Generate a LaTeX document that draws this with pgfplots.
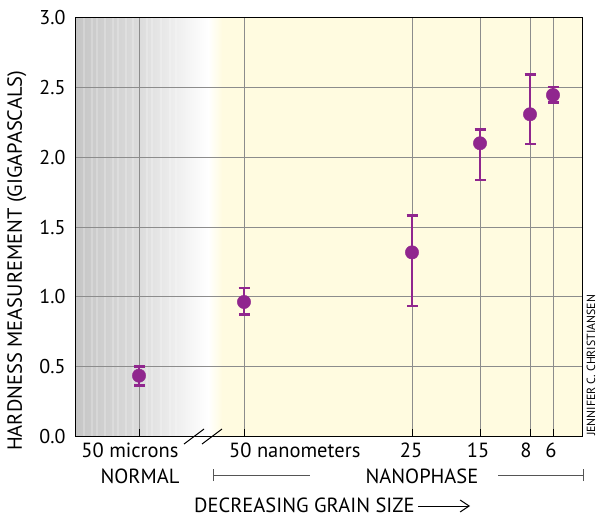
\documentclass[border=0pt]{standalone}
\usepackage{pgfplots}
\pgfplotsset{compat=1.18}
\usetikzlibrary{arrows.meta,calc}
\usepackage{fontspec}
\setmainfont{PT Sans}
\definecolor{purp}{HTML}{90268E}
\definecolor{ylw}{HTML}{FFFBE0}
\definecolor{gridc}{HTML}{8C8C8C}
\definecolor{gA}{HTML}{C6C6C6}
\definecolor{gB}{HTML}{DCDCDC}
\definecolor{brk}{HTML}{555555}
\pgfdeclarelayer{bg}
\pgfsetlayers{bg,main}
\begin{document}
\begin{tikzpicture}
\begin{axis}[name=ax, scale only axis,
  width=506pt, height=418pt,
  xmin=76, xmax=582, ymin=0, ymax=3,
  xtick={139,244,412,480,530,553}, xticklabels={},
  ytick={0,0.5,1,1.5,2,2.5,3},
  grid=major, grid style={gridc, line width=1pt},
  axis line style={black, line width=1pt},
  xtick pos=bottom, major tick length=7pt,
  tick style={black, line width=1pt},
  ytick style={draw=none},
  yticklabel style={font=\fontsize{20}{24}\selectfont, xshift=-7pt,
    /pgf/number format/fixed, /pgf/number format/fixed zerofill,
    /pgf/number format/precision=1, /pgf/number format/assume math mode=true},
  clip=false]
\addplot[only marks, mark=*, mark size=6.7pt, color=purp,
  mark options={fill=purp, draw=purp},
  error bars/.cd, y dir=both, y explicit,
  error bar style={line width=2.5pt, purp},
  error mark options={rotate=90, line width=2.5pt, mark size=5.5pt, purp}]
  coordinates {
  (139,0.433) += (0,0.067) -= (0,0.069)
  (244,0.962) += (0,0.100) -= (0,0.091)
  (412,1.318) += (0,0.263) -= (0,0.385)
  (480,2.101) += (0,0.097) -= (0,0.264)
  (530,2.309) += (0,0.287) -= (0,0.214)
  (553,2.447) += (0,0.057) -= (0,0.055)
  };
\coordinate (sw) at (axis cs:76,0);
\end{axis}
\begin{scope}[shift={($(sw)-(76pt,81pt)$)}, x=1pt, y=1pt]
\begin{pgfonlayer}{bg}
\shade[left color=gA,right color=gB] (76,81) rectangle (140.5,499);
\shade[left color=gB,right color=white] (140,81) rectangle (208.5,499);
\shade[left color=white,right color=ylw] (208,81) rectangle (222.5,499);
\fill[ylw] (222,81) rectangle (582,499);
\foreach \xx in {84,92,97,105,113,118,126,133,147,152,161,170,176} {
  \draw[white, opacity=0.22, line width=1.2pt] (\xx,81) -- (\xx,499);
}
\end{pgfonlayer}
% break marks
\draw[black, line width=1pt] (184,73) -- (204,88);
\draw[black, line width=1pt] (202,73) -- (222,88);
% x labels
\begin{scope}[every node/.style={font=\fontsize{20.5}{24}\selectfont, inner sep=0}]
\node[anchor=base] at (130,60) {50 microns};
\node[anchor=base west] at (229,60) {50 nanometers};
\node[anchor=base] at (411,60) {25};
\node[anchor=base] at (478,60) {15};
\node[anchor=base] at (526,60) {8};
\node[anchor=base] at (551,60) {6};
\node[anchor=base] at (140,34) {NORMAL};
\node[anchor=base] at (422,34) {NANOPHASE};
\node[anchor=base west] at (194,5) {DECREASING GRAIN SIZE};
\node[rotate=90, anchor=base west] at (22,66) {HARDNESS MEASUREMENT (GIGAPASCALS)};
\end{scope}
\draw[brk, line width=1pt] (213,36) -- (213,48);
\draw[brk, line width=1pt] (213,42) -- (310,42);
\draw[brk, line width=1pt] (498,42) -- (583,42);
\draw[brk, line width=1pt] (583,36) -- (583,48);
\draw[black, line width=1pt, -{Straight Barb[length=9pt,width=12pt]}] (418,11) -- (470,11);
\node[rotate=90, anchor=west, font=\fontsize{11.8}{14}\selectfont, inner sep=0] at (591,81) {JENNIFER C. CHRISTIANSEN};
\pgfresetboundingbox
\useasboundingbox (0,0) rectangle (597,517);
\end{scope}
\end{tikzpicture}
\end{document}
